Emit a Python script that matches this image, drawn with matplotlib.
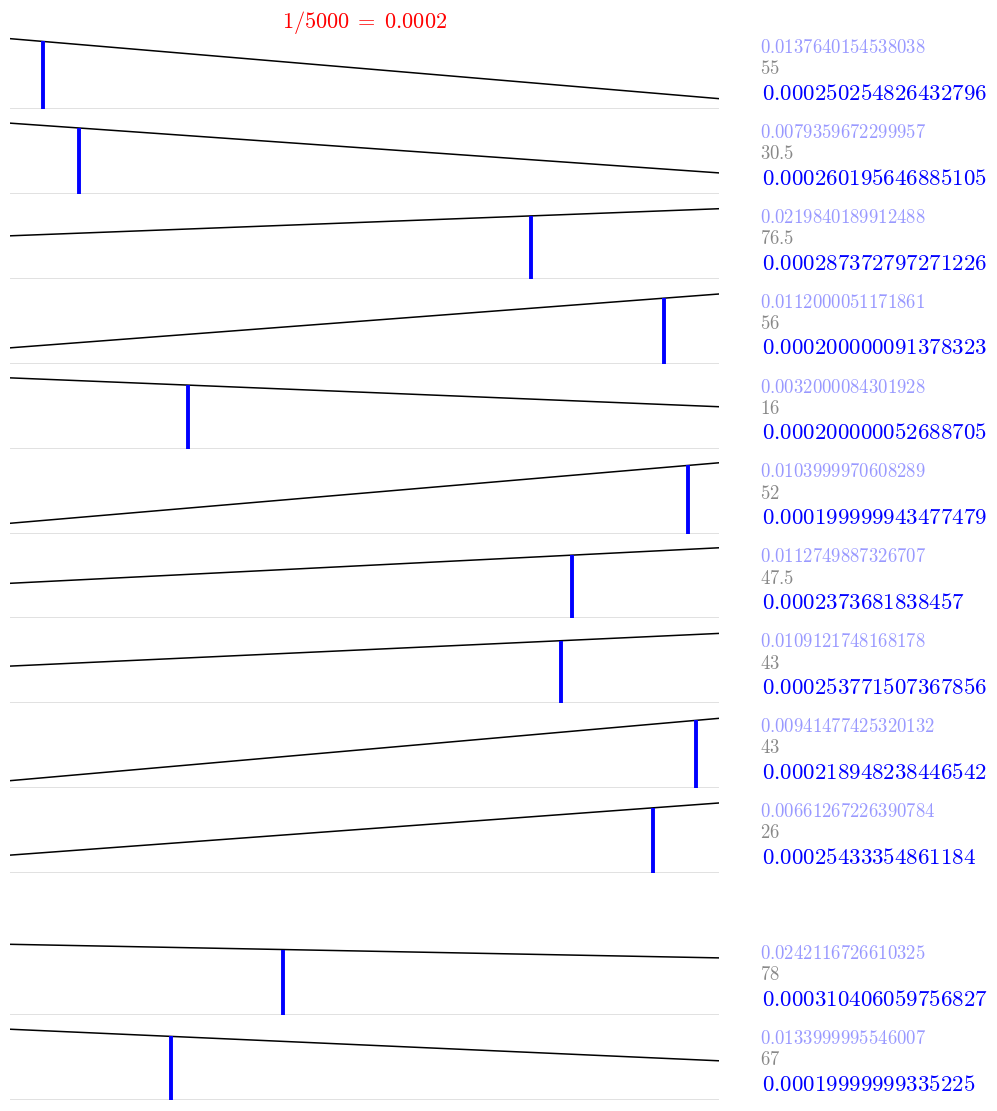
import matplotlib.pyplot as plt
import numpy as np

plt.rcParams['mathtext.fontset'] = 'cm'

# line height at the left and right end of each panel (panel max = 1)
left_vals = [0.993, 0.999, 0.607, 0.224, 1.0, 0.145, 0.497, 0.527, 0.108, 0.256, 1.0, 1.0]
right_vals = [0.145, 0.296, 0.990, 0.985, 0.592, 1.0, 0.999, 0.989, 0.989, 0.993, 0.808, 0.554]
# position of the blue marker along the panel (0..1)
marker_pos = [0.047, 0.097, 0.735, 0.922, 0.251, 0.956, 0.793, 0.777, 0.967, 0.907, 0.385, 0.227]

top_labels = ["0.0137640154538038", "0.0079359672299957", "0.0219840189912488",
              "0.0112000051171861", "0.0032000084301928", "0.0103999970608289",
              "0.0112749887326707", "0.0109121748168178", "0.00941477425320132",
              "0.00661267226390784", "0.0242116726610325", "0.0133999995546007"]
mid_labels = ["55", "30.5", "76.5", "56", "16", "52", "47.5", "43", "43", "26", "78", "67"]
bottom_labels = ["0.000250254826432796", "0.000260195646885105", "0.000287372797271226",
                 "0.000200000091378323", "0.000200000052688705", "0.000199999943477479",
                 "0.0002373681838457", "0.000253771507367856", "0.000218948238446542",
                 "0.00025433354861184", "0.000310406059756827", "0.00019999999335225"]

title = r"1/5000 \;=\; 0.0002"

fig = plt.figure(figsize=(9.97, 11.11), dpi=100)
gs = fig.add_gridspec(13, 1, height_ratios=[1] * 10 + [0.67] + [1, 1],
                      left=10 / 997, right=719 / 997,
                      top=1 - 24 / 1111, bottom=1 - 1100 / 1111, hspace=0)

rows = list(range(10)) + [11, 12]
for i, r in enumerate(rows):
    ax = fig.add_subplot(gs[r])
    xs = [0, 1]
    ys = [left_vals[i], right_vals[i]]
    ax.plot(xs, ys, color='black', lw=1.1, zorder=3)
    m = marker_pos[i]
    h = np.interp(m, xs, ys)
    ax.plot([m, m], [0, h], color='blue', lw=2.8, solid_capstyle='butt', zorder=4)
    ax.axhline(0, color='#dcdcdc', lw=1.2, zorder=1)
    ax.set_xlim(0, 1)
    ax.set_ylim(0, 1.2)
    ax.axis('off')

    ax.text(1.058, 0.725, "$" + top_labels[i] + "$", transform=ax.transAxes,
            color='#9999ff', fontsize=13.5, va='center', ha='left')
    ax.text(1.058, 0.475, "$" + mid_labels[i] + "$", transform=ax.transAxes,
            color='#888888', fontsize=13.5, va='center', ha='left')
    ax.text(1.06, 0.185, "$" + bottom_labels[i] + "$", transform=ax.transAxes,
            color='blue', fontsize=16.5, va='center', ha='left')
    if i == 0:
        ax.text(0.5, 1.02, "$" + title + "$", transform=ax.transAxes,
                color='red', fontsize=16, ha='center', va='center')

fig.savefig('out.png', dpi=100)
